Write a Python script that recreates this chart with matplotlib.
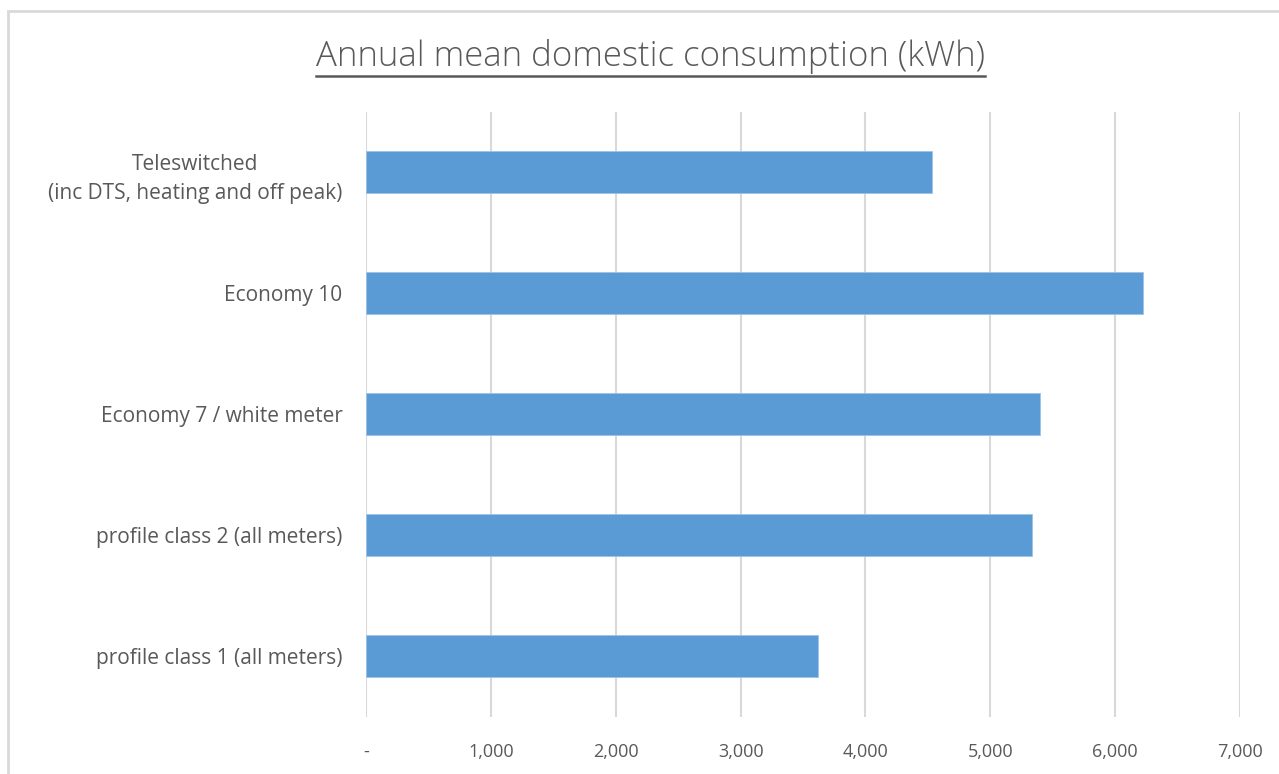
import matplotlib.pyplot as plt
from matplotlib.lines import Line2D
from matplotlib.ticker import FuncFormatter

categories = [
    "profile class 1 (all meters)",
    "profile class 2 (all meters)",
    "Economy 7 / white meter",
    "Economy 10",
    "Teleswitched\n(inc DTS, heating and off peak)",
]
consumption = [3620, 5335, 5400, 6220, 4530]
xticks = [0, 1000, 2000, 3000, 4000, 5000, 6000, 7000]

text_color = "#595959"
bar_color = "#5b9bd5"
grid_color = "#d9d9d9"

plt.rcParams['font.family'] = ['Open Sans', 'DejaVu Sans']

W, H = 1279, 774
fig = plt.figure(figsize=(W / 100, H / 100), dpi=100)
ax = fig.add_axes([366 / W, 1 - 716.5 / H, (1240 - 366) / W, (716.5 - 111.5) / H])

ax.barh(range(len(categories)), consumption, height=0.355, color=bar_color,
        edgecolor="#9dc3e6", linewidth=0.6, zorder=3)
ax.set_xlim(0, 7000)
ax.set_ylim(-0.5, len(categories) - 0.5)
ax.set_xticks(xticks)
ax.xaxis.set_major_formatter(FuncFormatter(lambda v, p: "-" if v == 0 else f"{int(v):,}"))
ax.set_yticks(range(len(categories)))
ax.set_yticklabels(categories, fontsize=15, color=text_color, linespacing=1.5,
                   multialignment="center")
ax.tick_params(axis="x", length=0, pad=19, labelsize=13, labelcolor=text_color)
ax.tick_params(axis="y", length=0, pad=17)
ax.grid(axis="x", color=grid_color, linewidth=1.5, zorder=0)
for s in ax.spines.values():
    s.set_visible(False)

# outer chart frame
frame = plt.Rectangle((8 / W, -0.1), 1.2, 1 - 11 / H + 0.1, transform=fig.transFigure,
                      fill=False, edgecolor=grid_color, linewidth=2, zorder=0)
fig.add_artist(frame)

title = fig.text(650 / W, 1 - 57 / H, "Annual mean domestic consumption (kWh)",
                 ha="center", va="center", fontsize=25, color=text_color,
                 fontweight="light")

# underline the title like the original
fig.canvas.draw()
bb = title.get_window_extent()
fig.add_artist(Line2D([bb.x0 / W, bb.x1 / W], [(bb.y0 - 1) / H, (bb.y0 - 1) / H],
                      transform=fig.transFigure, color=text_color, linewidth=1.8))

fig.savefig("out.png", dpi=100)
